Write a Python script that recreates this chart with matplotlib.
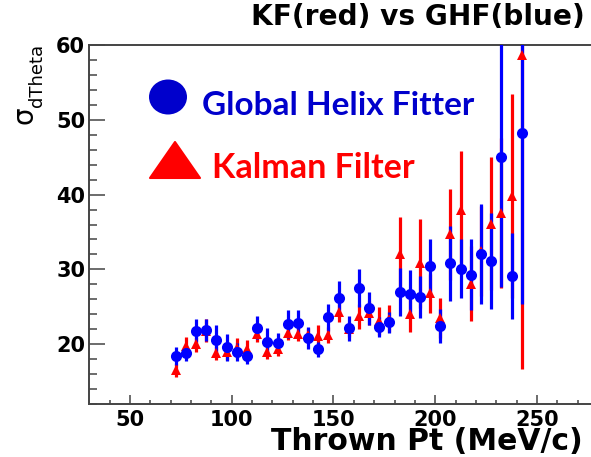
import matplotlib
matplotlib.use("Agg")
import matplotlib.pyplot as plt
from matplotlib.patches import Ellipse, Polygon
from matplotlib.ticker import MultipleLocator

# Bin centres (MeV/c)
pt = [72.5, 77.5, 82.5, 87.5, 92.5, 97.5, 102.5, 107.5, 112.5, 117.5,
      122.5, 127.5, 132.5, 137.5, 142.5, 147.5, 152.5, 157.5, 162.5, 167.5,
      172.5, 177.5, 182.5, 187.5, 192.5, 197.5, 202.5, 207.5, 212.5, 217.5,
      222.5, 227.5, 232.5, 237.5, 242.5]

# Global Helix Fitter (blue)
ghf_sigma = [18.4, 18.8, 21.8, 21.9, 20.6, 19.6, 19.0, 18.4, 22.2, 20.3,
             20.2, 22.7, 22.8, 20.8, 19.3, 23.6, 26.2, 22.1, 27.5, 24.8,
             22.3, 22.9, 27.0, 26.7, 26.3, 30.5, 22.4, 30.8, 30.1, 29.3,
             32.1, 31.1, 45.0, 29.1, 48.3]
ghf_err = [1.2, 1.0, 1.5, 1.5, 2.0, 1.8, 1.2, 1.1, 1.5, 1.9,
           1.3, 1.9, 1.8, 1.5, 1.0, 1.8, 2.3, 1.7, 2.5, 2.2,
           1.3, 1.4, 3.2, 3.2, 2.8, 3.6, 2.3, 5.0, 3.9, 4.7,
           6.7, 6.4, 17.3, 5.8, 22.9]

# Kalman Filter (red)
kf_sigma = [16.5, 19.8, 20.0, 21.8, 18.8, 18.9, 19.5, 19.3, 21.3, 19.0,
            19.4, 21.5, 21.4, 21.2, 21.1, 21.2, 24.3, 22.0, 23.7, 24.2,
            23.1, 23.4, 32.1, 24.1, 30.8, 26.8, 23.5, 34.7, 38.0, 28.1,
            32.5, 36.1, 37.5, 39.8, 58.6]
kf_err = [0.9, 1.2, 1.0, 1.5, 0.9, 1.0, 1.3, 1.2, 1.0, 1.0,
          1.0, 1.0, 1.0, 1.0, 1.4, 1.1, 1.4, 1.0, 1.7, 1.6,
          1.9, 1.8, 4.9, 2.5, 6.0, 2.6, 2.7, 6.1, 7.8, 5.0,
          6.0, 8.9, 10.0, 13.6, 41.9]

W, H = 591, 457
fig = plt.figure(figsize=(W / 100, H / 100), dpi=100)


def fx(px):
    return px / W


def fy(py):
    return 1 - py / H


ax_left, ax_right, ax_top, ax_bottom = 89.3, 598.0, 45.0, 404.0
ax = fig.add_axes([fx(ax_left), fy(ax_bottom),
                   (ax_right - ax_left) / W, (ax_bottom - ax_top) / H])

blue = "#0000FF"
red = "#FF0000"
lw = 2.3

# error bars first, then markers on top
ax.errorbar(pt, kf_sigma, yerr=kf_err, fmt="none", ecolor=red, elinewidth=lw, capsize=0, zorder=2)
ax.errorbar(pt, ghf_sigma, yerr=ghf_err, fmt="none", ecolor=blue, elinewidth=lw, capsize=0, zorder=3)
ax.plot(pt, kf_sigma, linestyle="none", marker="^", markersize=7, color=red,
        markeredgewidth=0, zorder=4)
ax.plot(pt, ghf_sigma, linestyle="none", marker="o", markersize=8, color=blue,
        markeredgewidth=0, zorder=5)

ax.set_xlim(30, 280)
ax.set_ylim(12, 60)

axis_col = "#444444"
for side in ("left", "bottom", "top"):
    ax.spines[side].set_color(axis_col)
    ax.spines[side].set_linewidth(1.4)
ax.spines["right"].set_visible(False)

ax.xaxis.set_major_locator(MultipleLocator(50))
ax.xaxis.set_minor_locator(MultipleLocator(10))
ax.yaxis.set_major_locator(MultipleLocator(10))
ax.yaxis.set_minor_locator(MultipleLocator(2))

ax.tick_params(axis="y", which="major", direction="in", length=11.5, width=1.1,
               color=axis_col, pad=3)
ax.tick_params(axis="y", which="minor", direction="in", length=5.8, width=1.1,
               color=axis_col)
ax.tick_params(axis="x", which="major", direction="in", length=6.5, width=1.1,
               color=axis_col, pad=4)
ax.tick_params(axis="x", which="minor", direction="in", length=3, width=1.1,
               color=axis_col)
for lab in ax.get_xticklabels() + ax.get_yticklabels():
    lab.set_fontfamily("DejaVu Sans")
    lab.set_fontweight("bold")
    lab.set_fontsize(15)

# titles and axis labels
fig.text(fx(585), fy(25), "KF(red) vs GHF(blue)", ha="right", va="baseline",
         fontsize=20.2, fontweight="bold", family="DejaVu Sans")
fig.text(fx(583), fy(450), "Thrown Pt (MeV/c)", ha="right", va="baseline",
         fontsize=21.5, fontweight="bold", family="DejaVu Sans")
fig.text(fx(24), fy(115), "σ", rotation=90, ha="center", va="center",
         fontsize=20, family="DejaVu Sans")
fig.text(fx(37), fy(75), "dTheta", rotation=90, ha="center", va="center",
         fontsize=13, family="DejaVu Sans")

# legend block
fig.add_artist(Ellipse((fx(168), fy(97)), 38 / W, 35 / H, transform=fig.transFigure,
                       facecolor="#0000CC", edgecolor="none"))
fig.add_artist(Polygon([(fx(150), fy(178)), (fx(200), fy(178)), (fx(175), fy(142))],
                       closed=True, transform=fig.transFigure,
                       facecolor=red, edgecolor=red, linewidth=1.5, joinstyle="round"))
fig.text(fx(202), fy(115), "Global Helix Fitter", ha="left", va="baseline",
         fontsize=24, fontweight="bold", family="Lato", color="#0000CC")
fig.text(fx(212), fy(178), "Kalman Filter", ha="left", va="baseline",
         fontsize=24.5, fontweight="bold", family="Lato", color=red)

fig.savefig("out.png", dpi=100)
